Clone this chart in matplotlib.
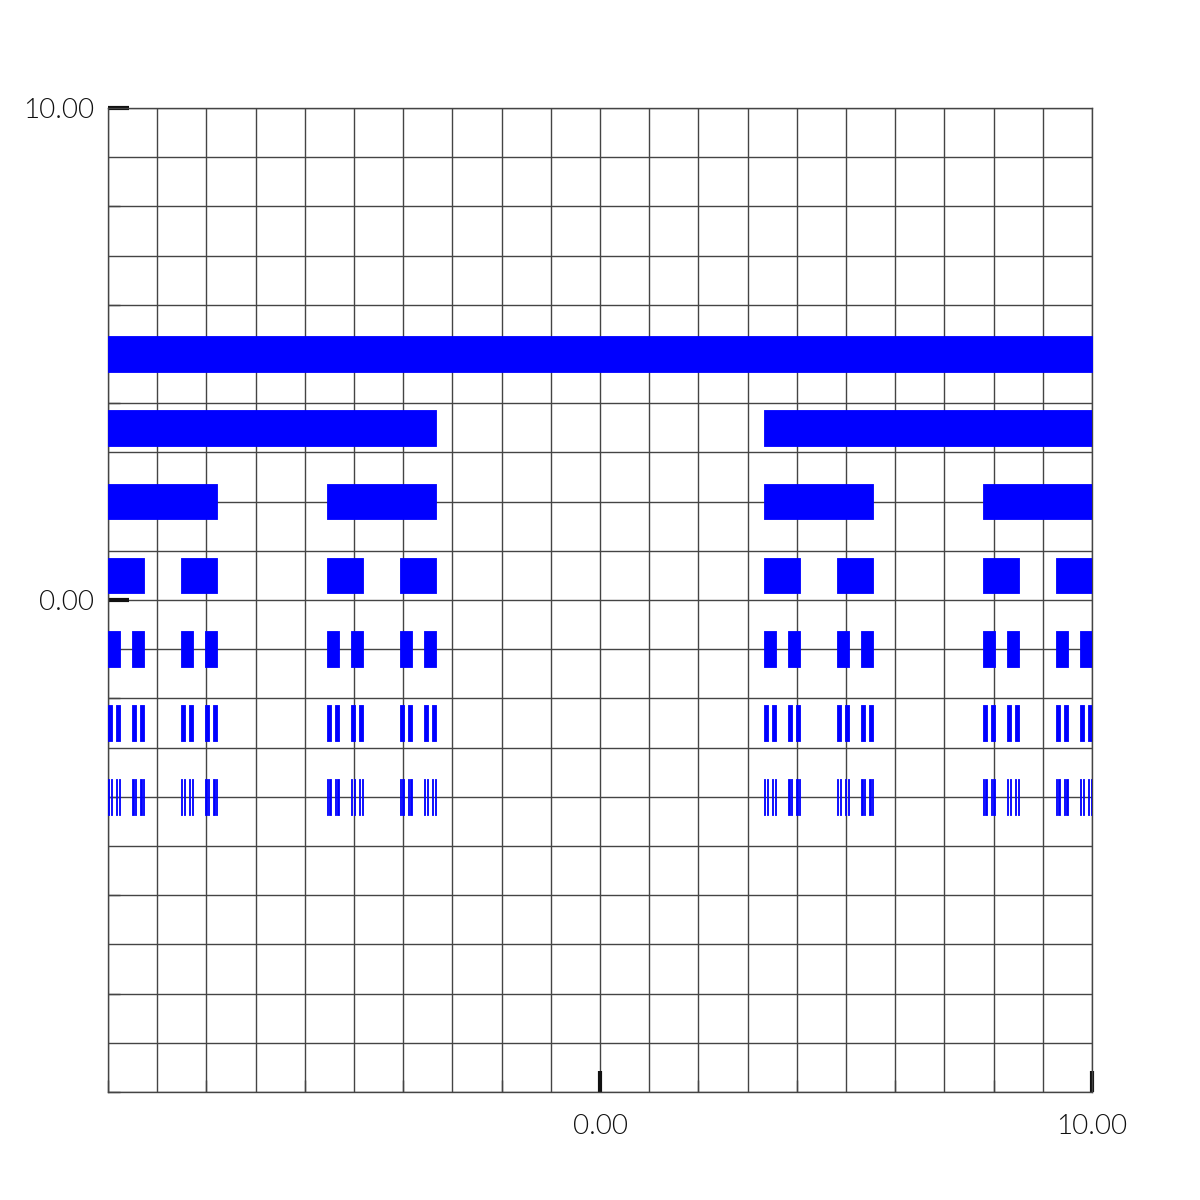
import matplotlib
matplotlib.use("Agg")
import matplotlib.pyplot as plt
from matplotlib.ticker import MultipleLocator, FixedLocator, FormatStrFormatter

# Cantor set construction: interval [-10, 10], 7 levels
x_start, x_end = -10.0, 10.0
level_y = [5.0, 3.5, 2.0, 0.5, -1.0, -2.5, -4.0]
bar_height = 0.72
major_ticks = [0.0, 10.0]

def cantor_levels(a, b, n):
    levels = [[(a, b)]]
    for _ in range(n - 1):
        nxt = []
        for (s, e) in levels[-1]:
            w = (e - s) / 3.0
            nxt.append((s, s + w))
            nxt.append((e - w, e))
        levels.append(nxt)
    return levels

levels = cantor_levels(x_start, x_end, len(level_y))

fig = plt.figure(figsize=(12, 12), dpi=100)
ax = fig.add_axes([0.09, 0.09, 0.82, 0.82])

for segs, y in zip(levels, level_y):
    ax.broken_barh([(s, e - s) for s, e in segs], (y - bar_height / 2, bar_height),
                   facecolors="#0000ff", edgecolors="#0000ff", linewidths=0.6, zorder=3)

ax.set_xlim(-10, 10)
ax.set_ylim(-10, 10)
ax.xaxis.set_major_locator(FixedLocator(major_ticks))
ax.yaxis.set_major_locator(FixedLocator(major_ticks))
ax.xaxis.set_minor_locator(MultipleLocator(2))
ax.yaxis.set_minor_locator(MultipleLocator(2))
ax.xaxis.set_major_formatter(FormatStrFormatter("%.2f"))
ax.yaxis.set_major_formatter(FormatStrFormatter("%.2f"))

# grid lines every unit
for v in range(-10, 11):
    ax.axvline(v, color="#444444", lw=1.0, zorder=1)
    ax.axhline(v, color="#444444", lw=1.0, zorder=1)

for sp in ax.spines.values():
    sp.set_color("#444444")
    sp.set_linewidth(1.0)

ax.tick_params(which="major", direction="in", length=15, width=3, color="#111111",
               pad=10, labelsize=20)
ax.tick_params(which="minor", direction="in", length=8.5, width=1, color="#444444")
for lab in ax.get_xticklabels() + ax.get_yticklabels():
    lab.set_family(["Lato", "DejaVu Sans"])
    lab.set_fontweight(300)
    lab.set_color("#111111")
for lab in ax.get_xticklabels():
    lab.set_y(-0.008)

fig.savefig("out.png", dpi=100, facecolor="white")
